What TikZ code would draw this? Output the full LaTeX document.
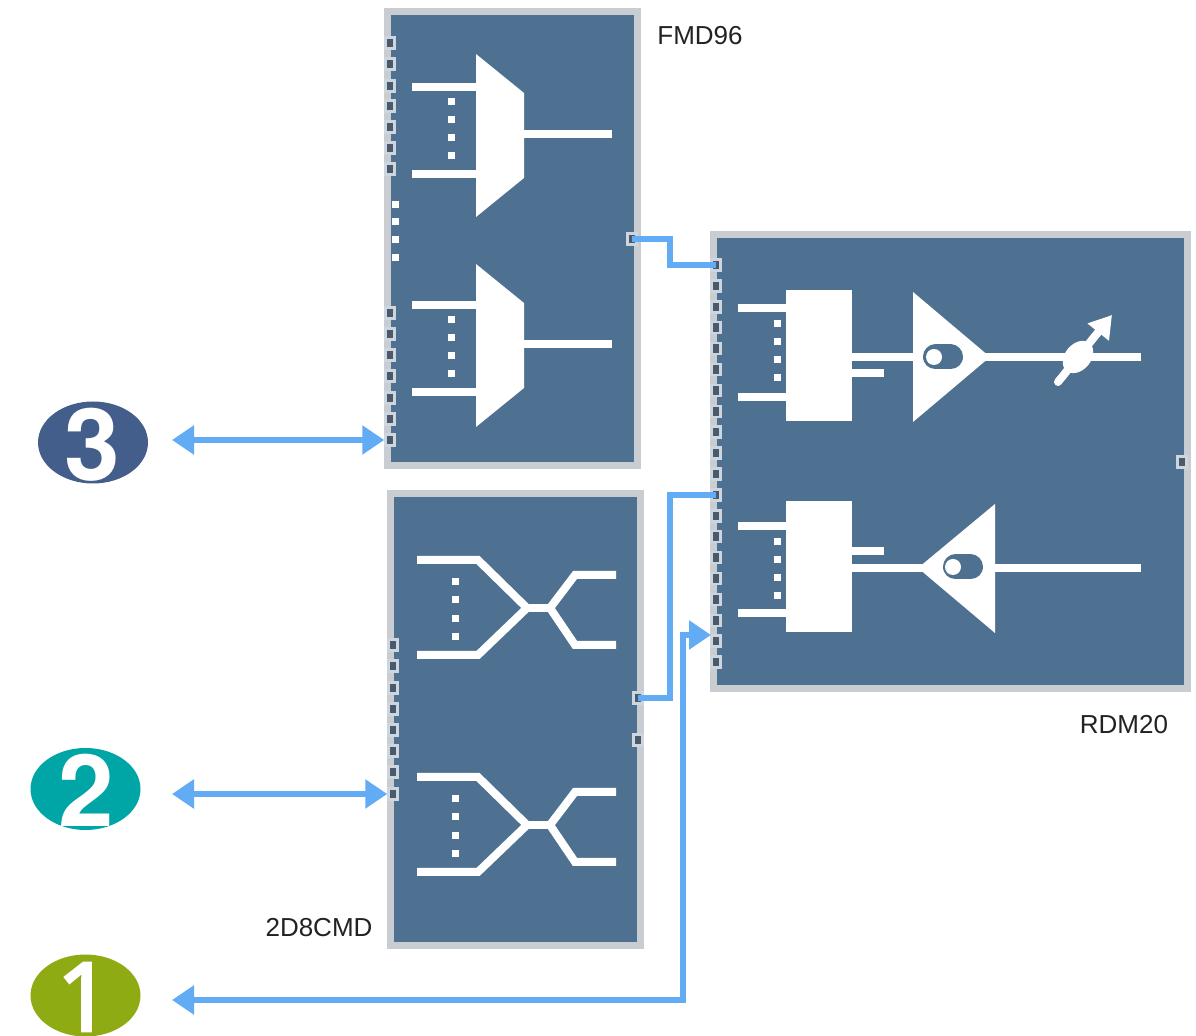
\documentclass[tikz,border=0pt]{standalone}
\usepackage{xcolor}
\usepackage{fontspec}
\setmainfont{Liberation Sans}
\newfontfamily\digitfont{TeX Gyre Heros}
\newfontfamily\onefont[FakeBold=2.5]{Noto Sans}
\usepackage{tikz}
\usetikzlibrary{arrows.meta,positioning,shapes.geometric,calc}
\definecolor{panel}{HTML}{4F7191}
\definecolor{rim}{HTML}{C9CCD0}
\definecolor{portrim}{HTML}{CDD6DE}
\definecolor{portfill}{HTML}{4A5A6A}
\definecolor{linkblue}{HTML}{62ABF5}
\definecolor{navy}{HTML}{435E8A}
\definecolor{teal}{HTML}{00A5A5}
\definecolor{olive}{HTML}{8FAB14}
\definecolor{ink}{HTML}{222222}
\begin{document}
\begin{tikzpicture}[
  x=0.5pt, y=-0.5pt,
  font=\fontsize{13pt}{15pt}\selectfont,
  box/.style={draw=rim, fill=panel, line width=3.5pt, inner sep=0pt},
  port/.style={draw=portrim, fill=portfill, line width=1.25pt, inner sep=0pt, minimum width=4.5pt, minimum height=5.5pt},
  wire/.style={white, line width=4pt},
  dotmark/.style={fill=white, inner sep=0pt, minimum size=3.5pt},
  link/.style={linkblue, line width=3.25pt},
  tip/.style={{Triangle[length=11pt, width=14pt]}-{Triangle[length=11pt, width=14pt]}},
  badge/.style={ellipse, inner sep=0pt, minimum width=55pt, minimum height=41pt},
  digit/.style={white, inner sep=0pt, font=\fontsize{50pt}{50pt}\digitfont\bfseries},
  tag/.style={ink, inner sep=0pt}
]
\useasboundingbox (0,0) rectangle (1196,1036);
% panels
\node[box, minimum width=125pt, minimum height=227pt] (fmd) at (512,239) {};
\node[box, minimum width=125pt, minimum height=226pt] (cmd) at (515.5,720) {};
\node[box, minimum width=237pt, minimum height=227pt] (rdm) at (950,461.5) {};
% FMD96 muxes
\foreach \dy/\iy in {0/0, 210/218} {
  \begin{scope}[yshift=-\dy*0.5pt]
    \fill[white] (476,54) -- (524,93) -- (524,178) -- (476,217) -- cycle;
    \draw[wire] (476,134) -- (612,134);
  \end{scope}
  \begin{scope}[yshift=-\iy*0.5pt]
    \draw[wire] (412,87) -- (476,87);
    \draw[wire] (412,174) -- (476,174);
    \foreach \y in {102,120,138,156}
      \fill[white] (447.5,\y-3.5) rectangle ++(7,7);
  \end{scope}
}
% 2D8CMD crossings
\foreach \dy in {0,217} {
  \begin{scope}[yshift=-\dy*0.5pt]
    \draw[wire] (417,560) -- (478,560) -- (527,608) -- (478,655) -- (417,655);
    \draw[wire] (527,608) -- (550,608);
    \draw[wire] (616,575) -- (575,575) -- (550,608) -- (575,645) -- (616,645);
    \foreach \y in {582,600,619,637}
      \fill[white] (451.5,\y-3.5) rectangle ++(7,7);
  \end{scope}
}
% RDM20 blocks
\foreach \top/\a/\b in {290/308/397, 501/526/613} {
  \fill[white] (786,\top) rectangle (852,\top+131);
  \draw[wire] (738,\a) -- (786,\a);
  \draw[wire] (738,\b) -- (786,\b);
  \foreach \d in {16,34,52,70}
    \fill[white] (773.5,\a+\d-3.5) rectangle ++(7,7);
}
\draw[wire] (852,357) -- (1141,357);
\draw[wire] (852,373) -- (884,373);
\fill[white] (913,292) -- (990,357) -- (913,422) -- cycle;
\draw[panel, line width=12.5pt, line cap=round] (935.5,357) -- (950.5,357);
\fill[white] (934,357) circle[radius=8];
\fill[white, rotate around={50:(1078,357)}] (1078,357) ellipse[x radius=18, y radius=13];
\draw[white, line width=4pt, line cap=round, -{Triangle[length=11pt, width=13pt]}] (1058,382) -- (1112,315);
\draw[wire] (852,551) -- (884,551);
\draw[wire] (852,568) -- (922,568);
\draw[wire] (995,568) -- (1141,568);
\fill[white] (995,504) -- (918,568) -- (995,633) -- cycle;
\draw[panel, line width=12.5pt, line cap=round] (955.5,567) -- (970.5,567);
\fill[white] (953,567) circle[radius=8];
% ports
\foreach \i/\y in {1/43,2/64,3/86,4/106,5/127,6/148,7/169,8/313,9/334,10/355,11/376,12/398,13/419,14/440}
  \node[port] (pf\i) at (390,\y) {};
\foreach \y [count=\i] in {205,222,240,258}
  \node[dotmark] (gap\i) at (395,\y) {};
\node[port] (pfr) at (632,239) {};
\foreach \i/\y in {1/645,2/666,3/688,4/709,5/730,6/751,7/772,8/794}
  \node[port] (pc\i) at (393,\y) {};
\node[port] (pcr1) at (638,698) {};
\node[port] (pcr2) at (638,740) {};
\foreach \i in {1,...,20}
  \node[port] (pr\i) at (716,{265+(\i-1)*20.9}) {};
\node[port] (prr) at (1182,462) {};
% badges
\node[badge, fill=navy] (b3) at (93,442.5) {};
\node[badge, fill=teal] (b2) at (85.5,789) {};
\node[badge, fill=olive] (b1) at (85.5,995.5) {};
\node[digit] (d3) at (92.5,445) {3};
\node[digit] (d2) at (86,790.5) {2};
\node[digit, font=\fontsize{48pt}{48pt}\onefont] (d1) at (84,997) {1};
% connectors
\coordinate (a3) at (172,440);
\coordinate (a2) at (172,794);
\coordinate (a1) at (172,1000);
\coordinate (bend) at (683,635);
\coordinate (in1) at (711,635);
\draw[link] (pfr.center) -- ++(38,0) |- (pr1.center);
\draw[link] (pcr1.center) -- ++(32,0) |- (pr12.center);
\draw[link, tip] (a3) -- (pf14.west);
\draw[link, tip] (a2) -- (pc8.west);
\draw[link, tip] (a1) -| (bend) -- (in1);
% labels
\node[tag] (lfmd) at (700,36) {FMD96};
\node[tag] (lrdm) at (1124,725) {RDM20};
\node[tag] (lcmd) at (319,928) {2D8CMD};
\end{tikzpicture}
\end{document}
